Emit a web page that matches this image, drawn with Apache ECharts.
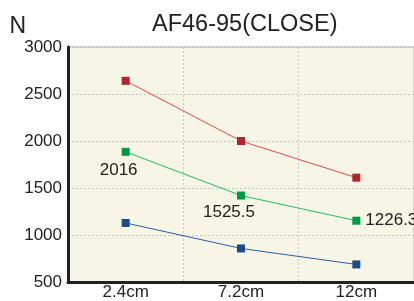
<!DOCTYPE html>
<html>
<head>
<meta charset="utf-8">
<script src="https://cdn.jsdelivr.net/npm/echarts@6/dist/echarts.min.js"></script>
<style>
  html, body { margin: 0; padding: 0; background: #fff; }
  #chart { width: 414px; height: 301px; }
</style>
</head>
<body>
<div id="chart"></div>
<script>
// 数据
const categories = ['2.4cm', '7.2cm', '12cm'];
const redValues = [2640, 2000, 1610];
const greenValues = [1885, 1420, 1152];
const blueValues = [1128, 857, 687];
const greenLabels = ['2016', '1525.5', '1226.3'];
const yTicks = { min: 500, max: 3000, interval: 500 };

const chart = echarts.init(document.getElementById('chart'));

// label placement for the green line (one per point)
const labelPlace = [
  { position: 'bottom', distance: 6, offset: [-7, 0] },
  { position: 'bottom', distance: 4, offset: [-12, 0] },
  { position: 'right', distance: 5, offset: [0, 0] }
];

const fontFam = '"Liberation Sans", Arial, sans-serif';

function lineSeries(name, values, lineColor, markColor) {
  return {
    name: name,
    type: 'line',
    data: values,
    symbol: 'rect',
    symbolSize: 8,
    lineStyle: { color: lineColor, width: 1 },
    itemStyle: { color: markColor },
    emphasis: { disabled: true },
    z: 3
  };
}

const green = lineSeries('green', greenValues, '#20c060', '#009944');
green.data = greenValues.map(function (v, i) {
  return {
    value: v,
    label: {
      show: true,
      position: labelPlace[i].position,
      distance: labelPlace[i].distance,
      offset: labelPlace[i].offset,
      formatter: greenLabels[i],
      fontSize: 17,
      color: '#222',
      fontFamily: fontFam
    }
  };
});

const option = {
  animation: false,
  backgroundColor: '#fff',
  title: {
    text: 'AF46-95(CLOSE)',
    left: 147,
    top: 8,
    textStyle: { fontSize: 23.5, fontWeight: 'normal', color: '#222', fontFamily: fontFam }
  },
  grid: {
    left: 68, top: 47, right: -5, bottom: 16,
    show: true,
    backgroundColor: '#f7f5e5',
    borderColor: '#d4d4d4',
    borderWidth: 2
  },
  xAxis: {
    type: 'category',
    data: categories,
    boundaryGap: true,
    axisLine: { lineStyle: { color: '#222', width: 3 } },
    axisTick: { show: false },
    axisLabel: { fontSize: 17, color: '#222', margin: 2, fontFamily: fontFam },
    splitLine: { show: true, lineStyle: { color: '#c4c4c4', type: [2, 2], width: 1 } }
  },
  yAxis: {
    type: 'value',
    min: yTicks.min,
    max: yTicks.max,
    interval: yTicks.interval,
    name: 'N',
    nameLocation: 'end',
    nameGap: 6,
    nameTextStyle: { fontSize: 23, color: '#222', fontFamily: fontFam, align: 'right', verticalAlign: 'bottom', padding: [0, 42, -6, 0] },
    axisLine: { show: true, lineStyle: { color: '#222', width: 3 } },
    axisTick: { show: false },
    axisLabel: {
      fontSize: 17, color: '#222', margin: 6, fontFamily: fontFam,
      formatter: function (v) { return String(v); }
    },
    splitLine: { show: true, lineStyle: { color: '#c4c4c4', type: [2, 2], width: 1 } }
  },
  series: [
    lineSeries('red', redValues, '#f04848', '#b0262c'),
    green,
    lineSeries('blue', blueValues, '#2a5cae', '#1f4a8a')
  ]
};

chart.setOption(option);
</script>
</body>
</html>
